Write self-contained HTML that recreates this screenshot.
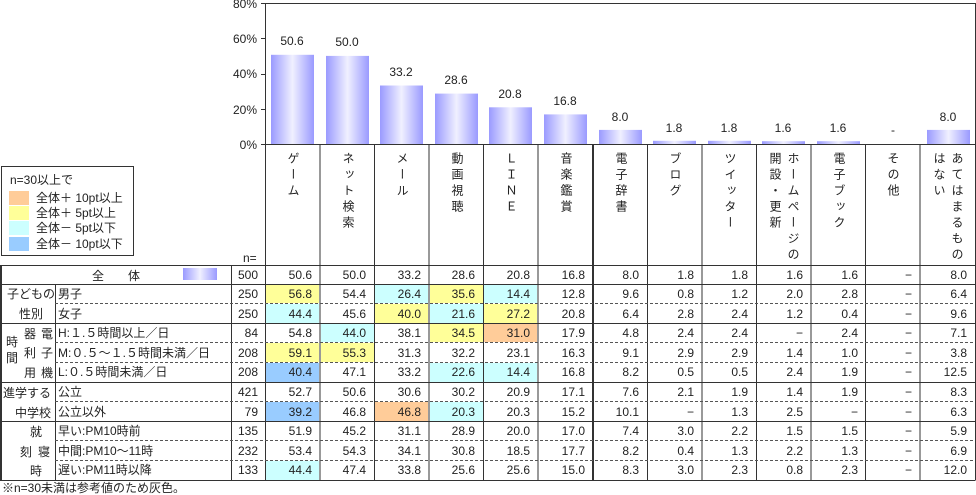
<!DOCTYPE html>
<html><head><meta charset="utf-8"><style>
body{margin:0;background:#fff;width:976px;height:495px;overflow:hidden;position:relative;font-family:"Liberation Sans","Noto Sans CJK JP",sans-serif;}
svg{position:absolute;left:0;top:0}
svg text{font-family:"Liberation Sans","Noto Sans CJK JP",sans-serif;font-size:12px;fill:#222}
.v{position:absolute;top:152px;writing-mode:vertical-rl;text-orientation:upright;font-size:12px;letter-spacing:4px;color:#222;font-family:"Noto Sans CJK JP",sans-serif;line-height:18px;white-space:nowrap}
</style></head><body>
<svg width="976" height="495" viewBox="0 0 976 495">
<defs>
<linearGradient id="g" x1="0" x2="1" y1="0" y2="0">
<stop offset="0" stop-color="#9a9aff"/><stop offset="0.5" stop-color="#f0f0ff"/><stop offset="1" stop-color="#9a9aff"/>
</linearGradient>
</defs>
<g fill="url(#g)">
<rect x="271" y="54.8" width="43" height="89.2"/>
<rect x="326" y="55.9" width="43" height="88.1"/>
<rect x="380" y="85.5" width="43" height="58.5"/>
<rect x="435" y="93.6" width="43" height="50.4"/>
<rect x="489" y="107.3" width="43" height="36.7"/>
<rect x="544" y="114.4" width="43" height="29.6"/>
<rect x="599" y="129.9" width="43" height="14.1"/>
<rect x="653" y="140.8" width="43" height="3.2"/>
<rect x="708" y="140.8" width="43" height="3.2"/>
<rect x="762" y="141.2" width="43" height="2.8"/>
<rect x="817" y="141.2" width="43" height="2.8"/>
<rect x="927" y="129.9" width="43" height="14.1"/>
<rect x="183" y="268" width="34" height="12"/>
</g>
<g text-anchor="middle">
<text x="292" y="45">50.6</text><text x="347" y="46">50.0</text><text x="401" y="76">33.2</text>
<text x="456" y="84">28.6</text><text x="510" y="98">20.8</text><text x="565" y="105">16.8</text>
<text x="620" y="121">8.0</text><text x="674" y="132">1.8</text><text x="729" y="132">1.8</text>
<text x="783" y="132">1.6</text><text x="838" y="132">1.6</text><text x="893" y="134">-</text><text x="948" y="121">8.0</text>
</g>
<g text-anchor="end" font-size="11">
<text x="257" y="8">80%</text><text x="257" y="43">60%</text><text x="257" y="78">40%</text>
<text x="257" y="114">20%</text><text x="257" y="149">0%</text>
</g>
<g>
<rect x="266" y="285" width="53" height="18" fill="#ffff99"/>
<rect x="375" y="285" width="53" height="18" fill="#ccffff"/>
<rect x="430" y="285" width="53" height="18" fill="#ffff99"/>
<rect x="484" y="285" width="53" height="18" fill="#ccffff"/>
<rect x="266" y="304" width="53" height="19" fill="#ccffff"/>
<rect x="375" y="304" width="53" height="19" fill="#ffff99"/>
<rect x="430" y="304" width="53" height="19" fill="#ccffff"/>
<rect x="484" y="304" width="53" height="19" fill="#ffff99"/>
<rect x="321" y="324" width="53" height="18" fill="#ccffff"/>
<rect x="430" y="324" width="53" height="18" fill="#ffff99"/>
<rect x="484" y="324" width="53" height="18" fill="#ffcc99"/>
<rect x="266" y="343" width="53" height="19" fill="#ffff99"/>
<rect x="321" y="343" width="53" height="19" fill="#ffff99"/>
<rect x="266" y="363" width="53" height="19" fill="#99ccff"/>
<rect x="430" y="363" width="53" height="19" fill="#ccffff"/>
<rect x="484" y="363" width="53" height="19" fill="#ccffff"/>
<rect x="266" y="402" width="53" height="19" fill="#99ccff"/>
<rect x="375" y="402" width="53" height="19" fill="#ffcc99"/>
<rect x="430" y="402" width="53" height="19" fill="#ccffff"/>
<rect x="266" y="461" width="53" height="19" fill="#ccffff"/>
</g>
<g stroke="#333" stroke-width="1" fill="none">
<path d="M265.5 3.5H975.5V480.5"/>
<path d="M265.5 3V480"/>
<path d="M261 3.5H265M261 38.5H265M261 74.5H265M261 109.5H265M261 144.5H975"/>
<path d="M320 144V480M374.5 144V480M429 144V480M483.5 144V480M538 144V480M647.5 144V480M702 144V480M756.5 144V480M811 144V480M865.5 144V480M920 144V480"/>
<path d="M0 265.5H975M0 284.5H975M0 323.5H975M0 382.5H975M0 421.5H975M0 480.5H975"/>
<path d="M231.5 265V480M55.5 284V480"/>
<rect x="1.5" y="166.5" width="132" height="89"/>
</g>
<path d="M593 144V481" stroke="#333" stroke-width="2"/>
<path d="M1 265V481" stroke="#333" stroke-width="2"/>
<g stroke="#555" stroke-dasharray="3,2" fill="none">
<path d="M55 303.5H975M55 342.5H975M55 362.5H975M55 401.5H975M55 440.5H975M55 460.5H975"/>
</g>
<rect x="9" y="191" width="20" height="14" fill="#ffcc99"/>
<rect x="9" y="206" width="20" height="14" fill="#ffff99"/>
<rect x="9" y="221" width="20" height="14" fill="#ccffff"/>
<rect x="9" y="237" width="20" height="14" fill="#99ccff"/>
<text x="10" y="184" font-size="11">n=30以上で</text>
<text x="36" y="202" font-size="11">全体＋ 10pt以上</text>
<text x="36" y="217" font-size="11">全体＋ 5pt以上</text>
<text x="36" y="232" font-size="11">全体－ 5pt以下</text>
<text x="36" y="248" font-size="11">全体－ 10pt以下</text>
<text x="243" y="262" font-size="11">n=</text>
<text x="92" y="280">全</text><text x="128" y="280">体</text>
<text x="7" y="298">子どもの</text><text x="19" y="318">性別</text>
<text x="6" y="346">時</text><text x="6" y="362">間</text>
<text x="24" y="338">器</text><text x="24" y="357">利</text><text x="24" y="377">用</text>
<text x="41" y="338">電</text><text x="41" y="357">子</text><text x="41" y="377">機</text>
<text x="3" y="397">進学する</text><text x="15" y="417">中学校</text>
<text x="30" y="436">就</text><text x="20" y="456">刻</text><text x="38" y="456">寝</text><text x="30" y="475">時</text>
<g>
<text x="58" y="298">男子</text><text x="58" y="318">女子</text>
<text x="58" y="337">H:１.５時間以上／日</text>
<text x="58" y="357">M:０.５～１.５時間未満／日</text>
<text x="58" y="376">L:０.５時間未満／日</text>
<text x="58" y="396">公立</text><text x="58" y="416">公立以外</text>
<text x="58" y="435">早い:PM10時前</text>
<text x="58" y="455">中間:PM10～11時</text>
<text x="58" y="474">遅い:PM11時以降</text>
</g>
<text x="2" y="492" font-size="11">※n=30未満は参考値のため灰色。</text>
<g text-anchor="end">
<g transform="translate(0,279)"><text x="258">500</text><text x="312">50.6</text><text x="366">50.0</text><text x="421">33.2</text><text x="475">28.6</text><text x="530">20.8</text><text x="585">16.8</text><text x="639">8.0</text><text x="694">1.8</text><text x="748">1.8</text><text x="803">1.6</text><text x="858">1.6</text><text x="912">−</text><text x="967">8.0</text></g>
<g transform="translate(0,298)"><text x="258">250</text><text x="312">56.8</text><text x="366">54.4</text><text x="421">26.4</text><text x="475">35.6</text><text x="530">14.4</text><text x="585">12.8</text><text x="639">9.6</text><text x="694">0.8</text><text x="748">1.2</text><text x="803">2.0</text><text x="858">2.8</text><text x="912">−</text><text x="967">6.4</text></g>
<g transform="translate(0,318)"><text x="258">250</text><text x="312">44.4</text><text x="366">45.6</text><text x="421">40.0</text><text x="475">21.6</text><text x="530">27.2</text><text x="585">20.8</text><text x="639">6.4</text><text x="694">2.8</text><text x="748">2.4</text><text x="803">1.2</text><text x="858">0.4</text><text x="912">−</text><text x="967">9.6</text></g>
<g transform="translate(0,337)"><text x="258">84</text><text x="312">54.8</text><text x="366">44.0</text><text x="421">38.1</text><text x="475">34.5</text><text x="530">31.0</text><text x="585">17.9</text><text x="639">4.8</text><text x="694">2.4</text><text x="748">2.4</text><text x="803">−</text><text x="858">2.4</text><text x="912">−</text><text x="967">7.1</text></g>
<g transform="translate(0,357)"><text x="258">208</text><text x="312">59.1</text><text x="366">55.3</text><text x="421">31.3</text><text x="475">32.2</text><text x="530">23.1</text><text x="585">16.3</text><text x="639">9.1</text><text x="694">2.9</text><text x="748">2.9</text><text x="803">1.4</text><text x="858">1.0</text><text x="912">−</text><text x="967">3.8</text></g>
<g transform="translate(0,376)"><text x="258">208</text><text x="312">40.4</text><text x="366">47.1</text><text x="421">33.2</text><text x="475">22.6</text><text x="530">14.4</text><text x="585">16.8</text><text x="639">8.2</text><text x="694">0.5</text><text x="748">0.5</text><text x="803">2.4</text><text x="858">1.9</text><text x="912">−</text><text x="967">12.5</text></g>
<g transform="translate(0,396)"><text x="258">421</text><text x="312">52.7</text><text x="366">50.6</text><text x="421">30.6</text><text x="475">30.2</text><text x="530">20.9</text><text x="585">17.1</text><text x="639">7.6</text><text x="694">2.1</text><text x="748">1.9</text><text x="803">1.4</text><text x="858">1.9</text><text x="912">−</text><text x="967">8.3</text></g>
<g transform="translate(0,416)"><text x="258">79</text><text x="312">39.2</text><text x="366">46.8</text><text x="421">46.8</text><text x="475">20.3</text><text x="530">20.3</text><text x="585">15.2</text><text x="639">10.1</text><text x="694">−</text><text x="748">1.3</text><text x="803">2.5</text><text x="858">−</text><text x="912">−</text><text x="967">6.3</text></g>
<g transform="translate(0,435)"><text x="258">135</text><text x="312">51.9</text><text x="366">45.2</text><text x="421">31.1</text><text x="475">28.9</text><text x="530">20.0</text><text x="585">17.0</text><text x="639">7.4</text><text x="694">3.0</text><text x="748">2.2</text><text x="803">1.5</text><text x="858">1.5</text><text x="912">−</text><text x="967">5.9</text></g>
<g transform="translate(0,455)"><text x="258">232</text><text x="312">53.4</text><text x="366">54.3</text><text x="421">34.1</text><text x="475">30.8</text><text x="530">18.5</text><text x="585">17.7</text><text x="639">8.2</text><text x="694">0.4</text><text x="748">1.3</text><text x="803">2.2</text><text x="858">1.3</text><text x="912">−</text><text x="967">6.9</text></g>
<g transform="translate(0,474)"><text x="258">133</text><text x="312">44.4</text><text x="366">47.4</text><text x="421">33.8</text><text x="475">25.6</text><text x="530">25.6</text><text x="585">15.0</text><text x="639">8.3</text><text x="694">3.0</text><text x="748">2.3</text><text x="803">0.8</text><text x="858">2.3</text><text x="912">−</text><text x="967">12.0</text></g>
</g>
</svg>
<div class="v" style="left:284px">ゲーム</div>
<div class="v" style="left:339px">ネット検索</div>
<div class="v" style="left:393px">メール</div>
<div class="v" style="left:448px">動画視聴</div>
<div class="v" style="left:502px">ＬＩＮＥ</div>
<div class="v" style="left:557px">音楽鑑賞</div>
<div class="v" style="left:612px">電子辞書</div>
<div class="v" style="left:666px">ブログ</div>
<div class="v" style="left:721px">ツイッター</div>
<div class="v" style="left:766px">ホームページの<br>開設・更新</div>
<div class="v" style="left:830px">電子ブック</div>
<div class="v" style="left:884px">その他</div>
<div class="v" style="left:930px">あてはまるもの<br>はない</div>
</body></html>
